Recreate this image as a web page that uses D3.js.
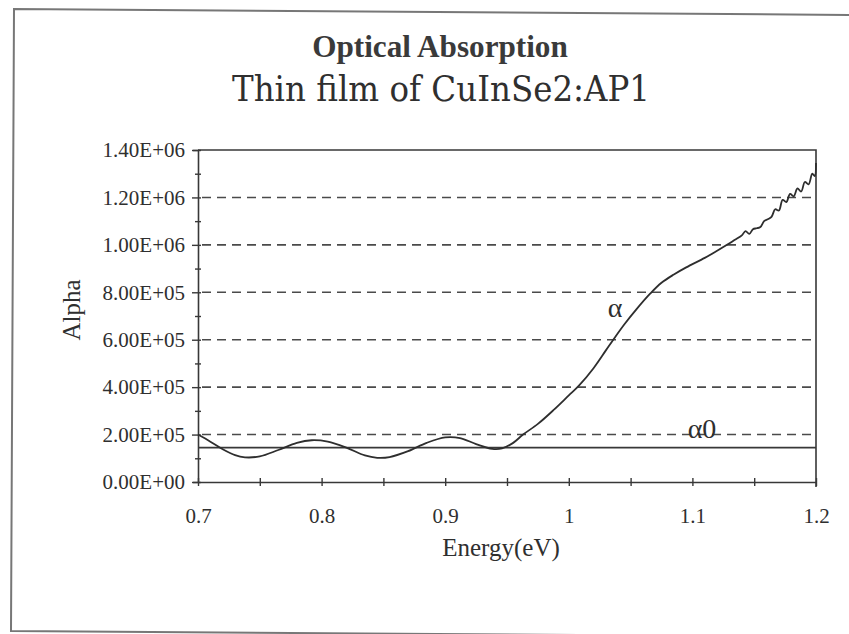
<!DOCTYPE html>
<html>
<head>
<meta charset="utf-8">
<script src="https://cdn.jsdelivr.net/npm/d3@7"></script>
<style>
  html, body { margin: 0; padding: 0; background: #fff; }
  svg { display: block; }
</style>
</head>
<body>
<svg id="chart" width="849" height="634"></svg>
<script>
// ---- data ----
const energy = [0.700,0.710,0.720,0.730,0.738,0.750,0.765,0.780,0.792,0.805,0.820,0.835,0.845,0.855,0.870,0.885,0.900,0.912,0.925,0.938,0.946,0.955,0.963,0.975,0.988,1.000,1.008,1.020,1.030,1.036,1.045,1.055,1.066,1.075,1.085,1.095,1.110,1.120,1.128,1.134,1.140,1.143,1.146,1.149,1.152,1.155,1.158,1.161,1.164,1.167,1.170,1.173,1.176,1.179,1.182,1.185,1.188,1.191,1.194,1.197,1.199,1.200];
const alpha  = [2.00e5,1.70e5,1.38e5,1.13e5,1.04e5,1.08e5,1.35e5,1.65e5,1.76e5,1.70e5,1.45e5,1.12e5,1.02e5,1.05e5,1.30e5,1.65e5,1.88e5,1.85e5,1.60e5,1.40e5,1.42e5,1.65e5,2.00e5,2.45e5,3.05e5,3.65e5,4.05e5,4.80e5,5.55e5,6.00e5,6.65e5,7.30e5,7.95e5,8.40e5,8.75e5,9.05e5,9.45e5,9.75e5,1.000e6,1.020e6,1.040e6,1.058e6,1.046e6,1.066e6,1.070e6,1.075e6,1.100e6,1.108e6,1.118e6,1.150e6,1.145e6,1.190e6,1.180e6,1.215e6,1.205e6,1.238e6,1.225e6,1.265e6,1.255e6,1.300e6,1.290e6,1.345e6];
const alpha0 = 1.45e5;
const xTickValues = [0.7,0.8,0.9,1.0,1.1,1.2];
const xTickLabels = ["0.7","0.8","0.9","1","1.1","1.2"];
const xMinorTicks = [0.7,0.75,0.8,0.85,0.9,0.95,1.0,1.05,1.1,1.15,1.2];
const yTickValues = [0,2e5,4e5,6e5,8e5,1e6,1.2e6,1.4e6];
const yTickLabels = ["0.00E+00","2.00E+05","4.00E+05","6.00E+05","8.00E+05","1.00E+06","1.20E+06","1.40E+06"];
const yMinorTicks = [1e5,3e5,5e5,7e5,9e5,1.1e6,1.3e6];
const gridValues = [2e5,4e5,6e5,8e5,1e6,1.2e6];

const FONT = "'Liberation Serif', 'Times New Roman', 'DejaVu Serif', serif";
const svg = d3.select("#chart");
const L = 198, R = 816, T = 150, B = 482;
const x = d3.scaleLinear().domain([0.7, 1.2]).range([L, R]);
const y = d3.scaleLinear().domain([0, 1.4e6]).range([B, T]);
const ink = "#383838";

function txt(sel, size) {
  return sel.style("font-family", FONT).style("font-size", size + "px").attr("fill", "#2f2f2f");
}

// outer frame (slightly skewed like the scan)
svg.append("path")
  .attr("d", "M862,15 L14,9 L11,631 L862,637")
  .attr("fill", "none").attr("stroke", "#777").attr("stroke-width", 2);

// titles
txt(svg.append("text").attr("transform", "translate(440,57) scale(1.3)").attr("text-anchor", "middle"), 24)
  .style("font-weight", "bold").attr("fill", "#3a3a3a").text("Optical Absorption");
svg.append("text").attr("x", 441).attr("y", 101).attr("text-anchor", "middle")
  .style("font-family", "'DejaVu Serif', serif").style("font-size", "36px").attr("fill", "#2f2f2f")
  .attr("textLength", 418).attr("lengthAdjust", "spacingAndGlyphs")
  .text("Thin film of CuInSe2:AP1");

// grid lines
svg.append("g").selectAll("line").data(gridValues).join("line")
  .attr("x1", L + 4).attr("x2", R).attr("y1", d => y(d)).attr("y2", d => y(d))
  .attr("stroke", "#4a4a4a").attr("stroke-width", 1.6).attr("stroke-dasharray", "9,6");

// plot box top/right
svg.append("path")
  .attr("d", `M${L},${T} L${R},${T} L${R},${B + 5}`)
  .attr("fill", "none").attr("stroke", ink).attr("stroke-width", 1.6);

// y axis
const yAxis = svg.append("g").attr("transform", `translate(${L},0)`)
  .call(d3.axisLeft(y).tickValues(yTickValues).tickFormat((d, i) => yTickLabels[i]).tickSize(5).tickPadding(8));
yAxis.select(".domain").attr("stroke", ink).attr("stroke-width", 1.6);
yAxis.selectAll(".tick line").attr("x1", -6).attr("x2", 3).attr("stroke", ink).attr("stroke-width", 1.4);
txt(yAxis.selectAll(".tick text"), 21);
const yMinor = svg.append("g").attr("transform", `translate(${L},0)`)
  .call(d3.axisLeft(y).tickValues(yMinorTicks).tickFormat("").tickSize(3));
yMinor.select(".domain").remove();
yMinor.selectAll(".tick line").attr("x1", -3).attr("x2", 3).attr("stroke", ink).attr("stroke-width", 1.4);

// x axis
const xAxis = svg.append("g").attr("transform", `translate(0,${B})`)
  .call(d3.axisBottom(x).tickValues(xTickValues).tickFormat((d, i) => xTickLabels[i]).tickSize(0).tickPadding(26));
xAxis.select(".domain").attr("stroke", ink).attr("stroke-width", 1.6);
txt(xAxis.selectAll(".tick text"), 21);
const xMinor = svg.append("g").attr("transform", `translate(0,${B})`)
  .call(d3.axisBottom(x).tickValues(xMinorTicks).tickFormat("").tickSize(4));
xMinor.select(".domain").remove();
xMinor.selectAll(".tick line").attr("y1", -4).attr("y2", 4).attr("stroke", ink).attr("stroke-width", 1.4);

// axis titles
txt(svg.append("text").attr("transform", "translate(80,310) rotate(-90)").attr("text-anchor", "middle"), 25)
  .text("Alpha");
txt(svg.append("text").attr("x", 501).attr("y", 556).attr("text-anchor", "middle"), 25)
  .text("Energy(eV)");

// alpha0 line
svg.append("line").attr("x1", x(0.7)).attr("x2", x(1.2)).attr("y1", y(alpha0)).attr("y2", y(alpha0))
  .attr("stroke", ink).attr("stroke-width", 1.6);

// alpha curve
const pts = energy.map((e, i) => [e, alpha[i]]);
const lineGen = d3.line().x(d => x(d[0])).y(d => y(d[1])).curve(d3.curveCatmullRom.alpha(0.5));
svg.append("path").datum(pts)
  .attr("d", lineGen)
  .attr("fill", "none").attr("stroke", "#2e2e2e").attr("stroke-width", 1.8).attr("stroke-linejoin", "round");

// labels on curves
txt(svg.append("text").attr("x", 615).attr("y", 317).attr("text-anchor", "middle"), 28).text("α");
txt(svg.append("text").attr("x", 702).attr("y", 438).attr("text-anchor", "middle"), 28).text("α0");
</script>
</body>
</html>
